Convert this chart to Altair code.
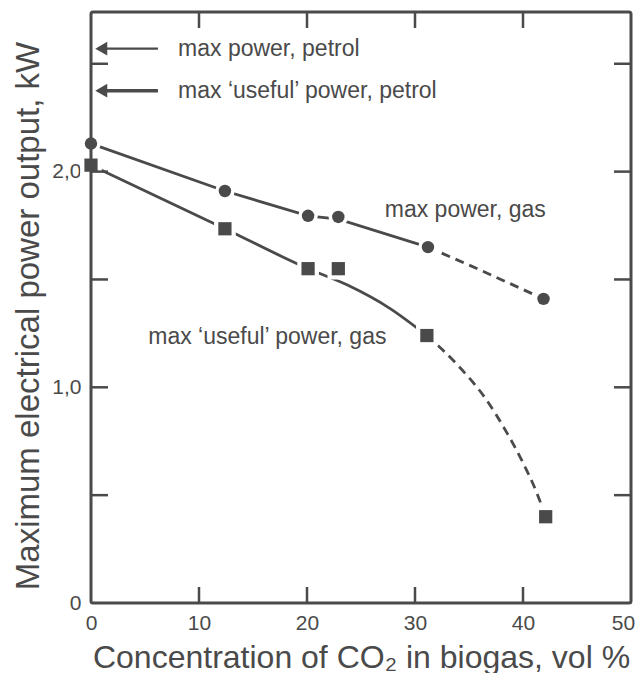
import altair as alt
import pandas as pd

# ---- data ----
circle_x = [0, 12.4, 20.1, 22.9, 31.2, 41.9]
circle_y = [2.13, 1.91, 1.795, 1.79, 1.65, 1.41]
square_x = [0, 12.4, 20.1, 22.9, 31.1, 42.1]
square_y = [2.03, 1.735, 1.55, 1.55, 1.24, 0.40]

# hand-drawn curves
c_solid_x = [0, 12.4, 20.1, 22.9, 31.2]
c_solid_y = [2.13, 1.91, 1.795, 1.78, 1.65]
c_dash_x = [31.2, 36.0, 41.9]
c_dash_y = [1.65, 1.545, 1.41]
s_solid_x = [0, 12.4, 20.1, 23.7, 27.7, 31.1]
s_solid_y = [2.03, 1.735, 1.55, 1.475, 1.365, 1.24]
s_dash_x = [31.1, 34.0, 36.5, 38.5, 40.0, 41.2, 42.1]
s_dash_y = [1.24, 1.10, 0.95, 0.79, 0.65, 0.52, 0.40]

x_labels = [0, 10, 20, 30, 40, 50]
y_labels = [0, 1, 2]
x_minor = [10, 20, 30, 40]
y_minor = [0.5, 1.0, 1.5, 2.0, 2.5]

petrol_y = [2.57, 2.375]
petrol_text = ["max power, petrol", "max \u2018useful\u2019 power, petrol"]
petrol_width = [2.2, 3.4]

gas_text = ["max power, gas", "max \u2018useful\u2019 power, gas"]
gas_x = [27.2, 5.3]
gas_y = [1.82, 1.234]

X_DOMAIN = [0, 50]
Y_DOMAIN = [0, 2.74]
INK = "#4a4a4a"
FONT = "Liberation Sans"
W, H = 540, 591

xs = alt.Scale(domain=X_DOMAIN, nice=False, zero=False)
ys = alt.Scale(domain=Y_DOMAIN, nice=False, zero=False)

AX = alt.Axis(
    values=x_labels, ticks=False, domain=False, grid=False,
    labelFontSize=21, labelPadding=9, labelColor=INK, labelFont=FONT,
    labelFlush=False, labelOverlap=False,
    labelOffset=alt.condition("datum.value == 50", alt.value(-8), alt.value(0)),
    title="Concentration of CO\u2082 in biogas, vol %",
    titleFontSize=32, titleFontWeight="normal", titleColor=INK, titleFont=FONT,
    titleY=64, titleBaseline="alphabetic")
AY = alt.Axis(
    values=y_labels, ticks=False, domain=False, grid=False,
    labelExpr="datum.value == 0 ? '0' : replace(format(datum.value, '.1f'), '.', ',')",
    labelFontSize=21, labelPadding=10, labelColor=INK, labelFont=FONT,
    labelFlush=False, labelOverlap=False,
    title="Maximum electrical power output, kW",
    titleFontSize=33, titleFontWeight="normal", titleColor=INK, titleFont=FONT,
    titleX=-53, titleY=H / 2 + 8, titleBaseline="alphabetic", titleAngle=270)


def X(f):
    return alt.X(f, type="quantitative", scale=xs, axis=AX)


def Y(f):
    return alt.Y(f, type="quantitative", scale=ys, axis=AY)


def curve(xv, yv, dashed, interp):
    df = pd.DataFrame({"x": xv, "y": yv})
    kw = dict(color=INK, strokeWidth=2.8, interpolate=interp)
    if dashed:
        kw["strokeDash"] = [9, 6]
    return alt.Chart(df).mark_line(**kw).encode(x=X("x"), y=Y("y"))


circ = pd.DataFrame({"x": circle_x, "y": circle_y})
sq = pd.DataFrame({"x": square_x, "y": square_y})

halo_c = alt.Chart(circ).mark_point(shape="circle", filled=True, color="white", size=380, opacity=1).encode(x=X("x"), y=Y("y"))
halo_s = alt.Chart(sq).mark_point(shape="square", filled=True, color="white", size=470, opacity=1).encode(x=X("x"), y=Y("y"))
mark_c = alt.Chart(circ).mark_point(shape="circle", filled=True, color=INK, size=155, opacity=1).encode(x=X("x"), y=Y("y"))
mark_s = alt.Chart(sq).mark_point(shape="square", filled=True, color=INK, size=175, opacity=1).encode(x=X("x"), y=Y("y"))

frame_df = pd.DataFrame({"x": [X_DOMAIN[0]], "x2": [X_DOMAIN[1]], "y": [Y_DOMAIN[0]], "y2": [Y_DOMAIN[1]]})
frame = alt.Chart(frame_df).mark_rect(
    filled=False, color=INK, strokeWidth=3, cornerRadius=2).encode(
    x=X("x"), x2="x2:Q", y=Y("y"), y2="y2:Q")

ym = pd.DataFrame({"y": y_minor})
xm = pd.DataFrame({"x": x_minor})
tick_kw = dict(color=INK, strokeWidth=2.5)
left_t = alt.Chart(ym).mark_rule(**tick_kw).encode(y=Y("y"), x=alt.value(0), x2=alt.value(17))
right_t = alt.Chart(ym).mark_rule(**tick_kw).encode(y=Y("y"), x=alt.value(W - 17), x2=alt.value(W))
top_t = alt.Chart(xm).mark_rule(**tick_kw).encode(x=X("x"), y=alt.value(0), y2=alt.value(16))
bot_t = alt.Chart(xm).mark_rule(**tick_kw).encode(x=X("x"), y=alt.value(H - 16), y2=alt.value(H))

pet = pd.DataFrame({"y": petrol_y, "t": petrol_text, "w": petrol_width,
                    "x1": [1.3, 1.3], "x2": [6.2, 6.2], "xh": [0.95, 0.95], "xt": [8.06, 8.06]})
shafts = alt.Chart(pet).mark_rule(color=INK).encode(
    x=X("x1"), x2="x2:Q", y=Y("y"),
    strokeWidth=alt.StrokeWidth("w:Q", scale=None, legend=None))
heads = alt.Chart(pet).mark_point(shape="triangle-left", filled=True, color=INK, size=190, opacity=1).encode(
    x=X("xh"), y=Y("y"))
pet_txt = alt.Chart(pet).mark_text(align="left", baseline="middle", fontSize=23, font=FONT, color=INK).encode(
    x=X("xt"), y=Y("y"), text="t:N")

gas = pd.DataFrame({"x": gas_x, "y": gas_y, "t": gas_text})
gas_txt = alt.Chart(gas).mark_text(align="left", baseline="middle", fontSize=23, font=FONT, color=INK).encode(
    x=X("x"), y=Y("y"), text="t:N")

chart = alt.layer(
    curve(c_solid_x, c_solid_y, False, "linear"),
    curve(c_dash_x, c_dash_y, True, "linear"),
    curve(s_solid_x, s_solid_y, False, "monotone"),
    curve(s_dash_x, s_dash_y, True, "monotone"),
    halo_c, halo_s, mark_c, mark_s,
    frame, left_t, right_t, top_t, bot_t,
    shafts, heads, pet_txt, gas_txt,
).properties(
    width=W, height=H,
    autosize=alt.AutoSizeParams(type="none"),
    padding={"left": 83, "top": 4, "right": 4, "bottom": 70},
).configure_view(stroke=None).configure(background="white")

chart.save("out.html", embed_options={"renderer": "svg", "actions": False})
